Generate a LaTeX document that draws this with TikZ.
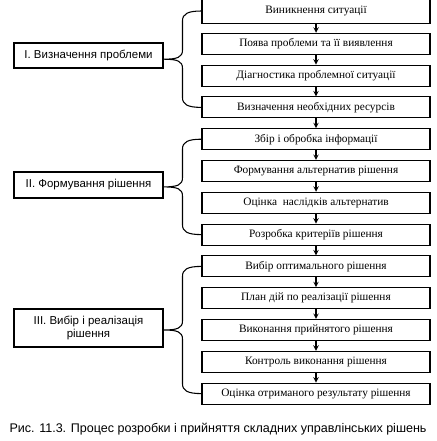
\documentclass[tikz,border=0pt]{standalone}
\usepackage{fontspec}
\setmainfont{Liberation Serif}
\setsansfont{Liberation Sans}
\usetikzlibrary{calc}
\tikzset{
    stepbox/.style={draw, minimum width=171pt, minimum height=15.75pt, inner sep=0pt, font=\fontsize{8.5}{10}\selectfont},
    stagebox/.style={draw, minimum width=111.75pt, inner sep=0pt, align=center, font=\sffamily\fontsize{8.6}{10}\selectfont}
}
\begin{document}
\begin{tikzpicture}[x=0.75pt, y=0.75pt, line width=0.8pt, >=stealth]
        \useasboundingbox (0,0) rectangle (436,-441);
        % stages
        \node[stagebox, minimum height=18.75pt] (g1) at (88.5,-55.5) {I. Визначення проблеми};
        \node[stagebox, minimum height=19.5pt] (g2) at (88.5,-185) {II. Формування рішення};
        \node[stagebox, minimum height=28.5pt] (g3) at (88.5,-328) {III. Вибір і реалізація\\рішення};
        % steps
        \node[stepbox, minimum height=18.75pt] (r1) at (316,-11) {Виникнення ситуації};
        \foreach \txt [count=\i from 2] in {Поява проблеми та її виявлення, Діагностика проблемної ситуації,
            Визначення необхідних ресурсів, Збір і обробка інформації, Формування альтернатив рішення,
            Оцінка\ \ наслідків альтернатив, Розробка критеріїв рішення, Вибір оптимального рішення,
            План дій по реалізації рішення, Виконання прийнятого рішення, Контроль виконання рішення,
            Оцінка отриманого результату рішення}
            \node[stepbox] (r\i) at (316,{-12-31.8*(\i-1)}) {\txt};
        \foreach \i in {1,...,12} {
            \pgfmathtruncatemacro{\j}{\i+1}
            \draw[->] (r\i) -- (r\j);
        }
        % braces
        \foreach \a/\b/\g [count=\k] in {r1/r4/g1, r5/r8/g2, r9/r13/g3} {
            \coordinate (m\k) at ($(\a.west)!.5!(\b.west)$);
            \draw (\a.west) .. controls +(-14,0) and +(0,7) .. ($(\a.west)+(-19,-10)$)
                -- ($(m\k)+(-19,9)$) .. controls +(0,-7) and +(14,0) .. (\g.east |- m\k)
                .. controls +(14,0) and +(0,7) .. ($(m\k)+(-19,-9)$)
                -- ($(\b.west)+(-19,10)$) .. controls +(0,-7) and +(-14,0) .. (\b.west);
        }
        \node[font=\sffamily\fontsize{9.4}{11}\selectfont] (cap) at (218,-429) {Рис. 11.3. Процес розробки і прийняття складних управлінських рішень};
    \end{tikzpicture}
\end{document}
